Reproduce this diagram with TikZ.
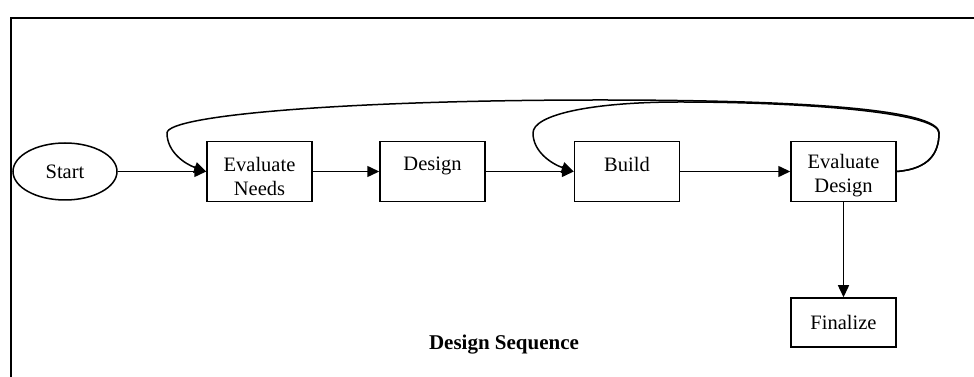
\documentclass[tikz,border=0pt]{standalone}
\usepackage{fontspec}
\setmainfont{Liberation Serif}
\usetikzlibrary{arrows.meta,shapes.geometric}

\begin{document}
\begin{tikzpicture}[x=1pt,y=1pt,
box/.style={draw, line width=1.5pt, minimum width=105pt, minimum height=60pt, inner sep=0pt, font=\fontsize{20.5}{24}\selectfont},
boxtext/.style={align=center, inner sep=0pt, yshift=-4.5pt, font=\fontsize{20.5}{24}\selectfont},
oval/.style={draw, ellipse, line width=1.5pt, minimum width=104pt, minimum height=57pt, inner sep=0pt, font=\fontsize{20.5}{24}\selectfont},
flow/.style={line width=1.5pt, -{Triangle[length=12pt,width=11pt]}}
]
\useasboundingbox (0,0) rectangle (974,377);
\draw[line width=1.6pt] (11,0) -- (11,359) -- (974,359);

\node[oval] (start) at (65,205.5) {Start};
\node[box] (needs) at (259.5,205.5) {};
\node[boxtext] (needs text) at (needs) {Evaluate\\Needs};
\node[box] (design) at (432.5,205.5) {};
\node[boxtext] (design text) at (design) {Design\\\phantom{Needs}};
\node[box] (build) at (627,205.5) {};
\node[boxtext] (build text) at (build) {Build\\\phantom{Needs}};
\node[box] (evaldesign) at (843.5,205.5) {};
\node[boxtext] (evaldesign text) at (evaldesign) {Evaluate\\Design};
\node[box, minimum height=49pt] (finalize) at (843.5,54.5) {Finalize};
\node[font=\fontsize{21}{24}\selectfont\bfseries] (title) at (504,32) {Design Sequence};

\draw[flow] (start) -- (needs);
\draw[flow] (needs) -- (design);
\draw[flow] (design) -- (build);
\draw[flow] (build) -- (evaldesign);
\draw[flow] (evaldesign) -- (finalize);

\draw[flow] (evaldesign.east) .. controls (930,208) and (939,225) .. (939,244)
  .. controls (939,268) and (800,277) .. (600,277)
  .. controls (350,277) and (167,262) .. (167,244)
  .. controls (167,225) and (185,213) .. (needs.west);
\draw[flow] (evaldesign.east) .. controls (930,208) and (939,225) .. (939,244)
  .. controls (939,265) and (800,275) .. (680,275)
  .. controls (590,275) and (533,262) .. (533,244)
  .. controls (533,225) and (552,213) .. (build.west);
\end{tikzpicture}
\end{document}
